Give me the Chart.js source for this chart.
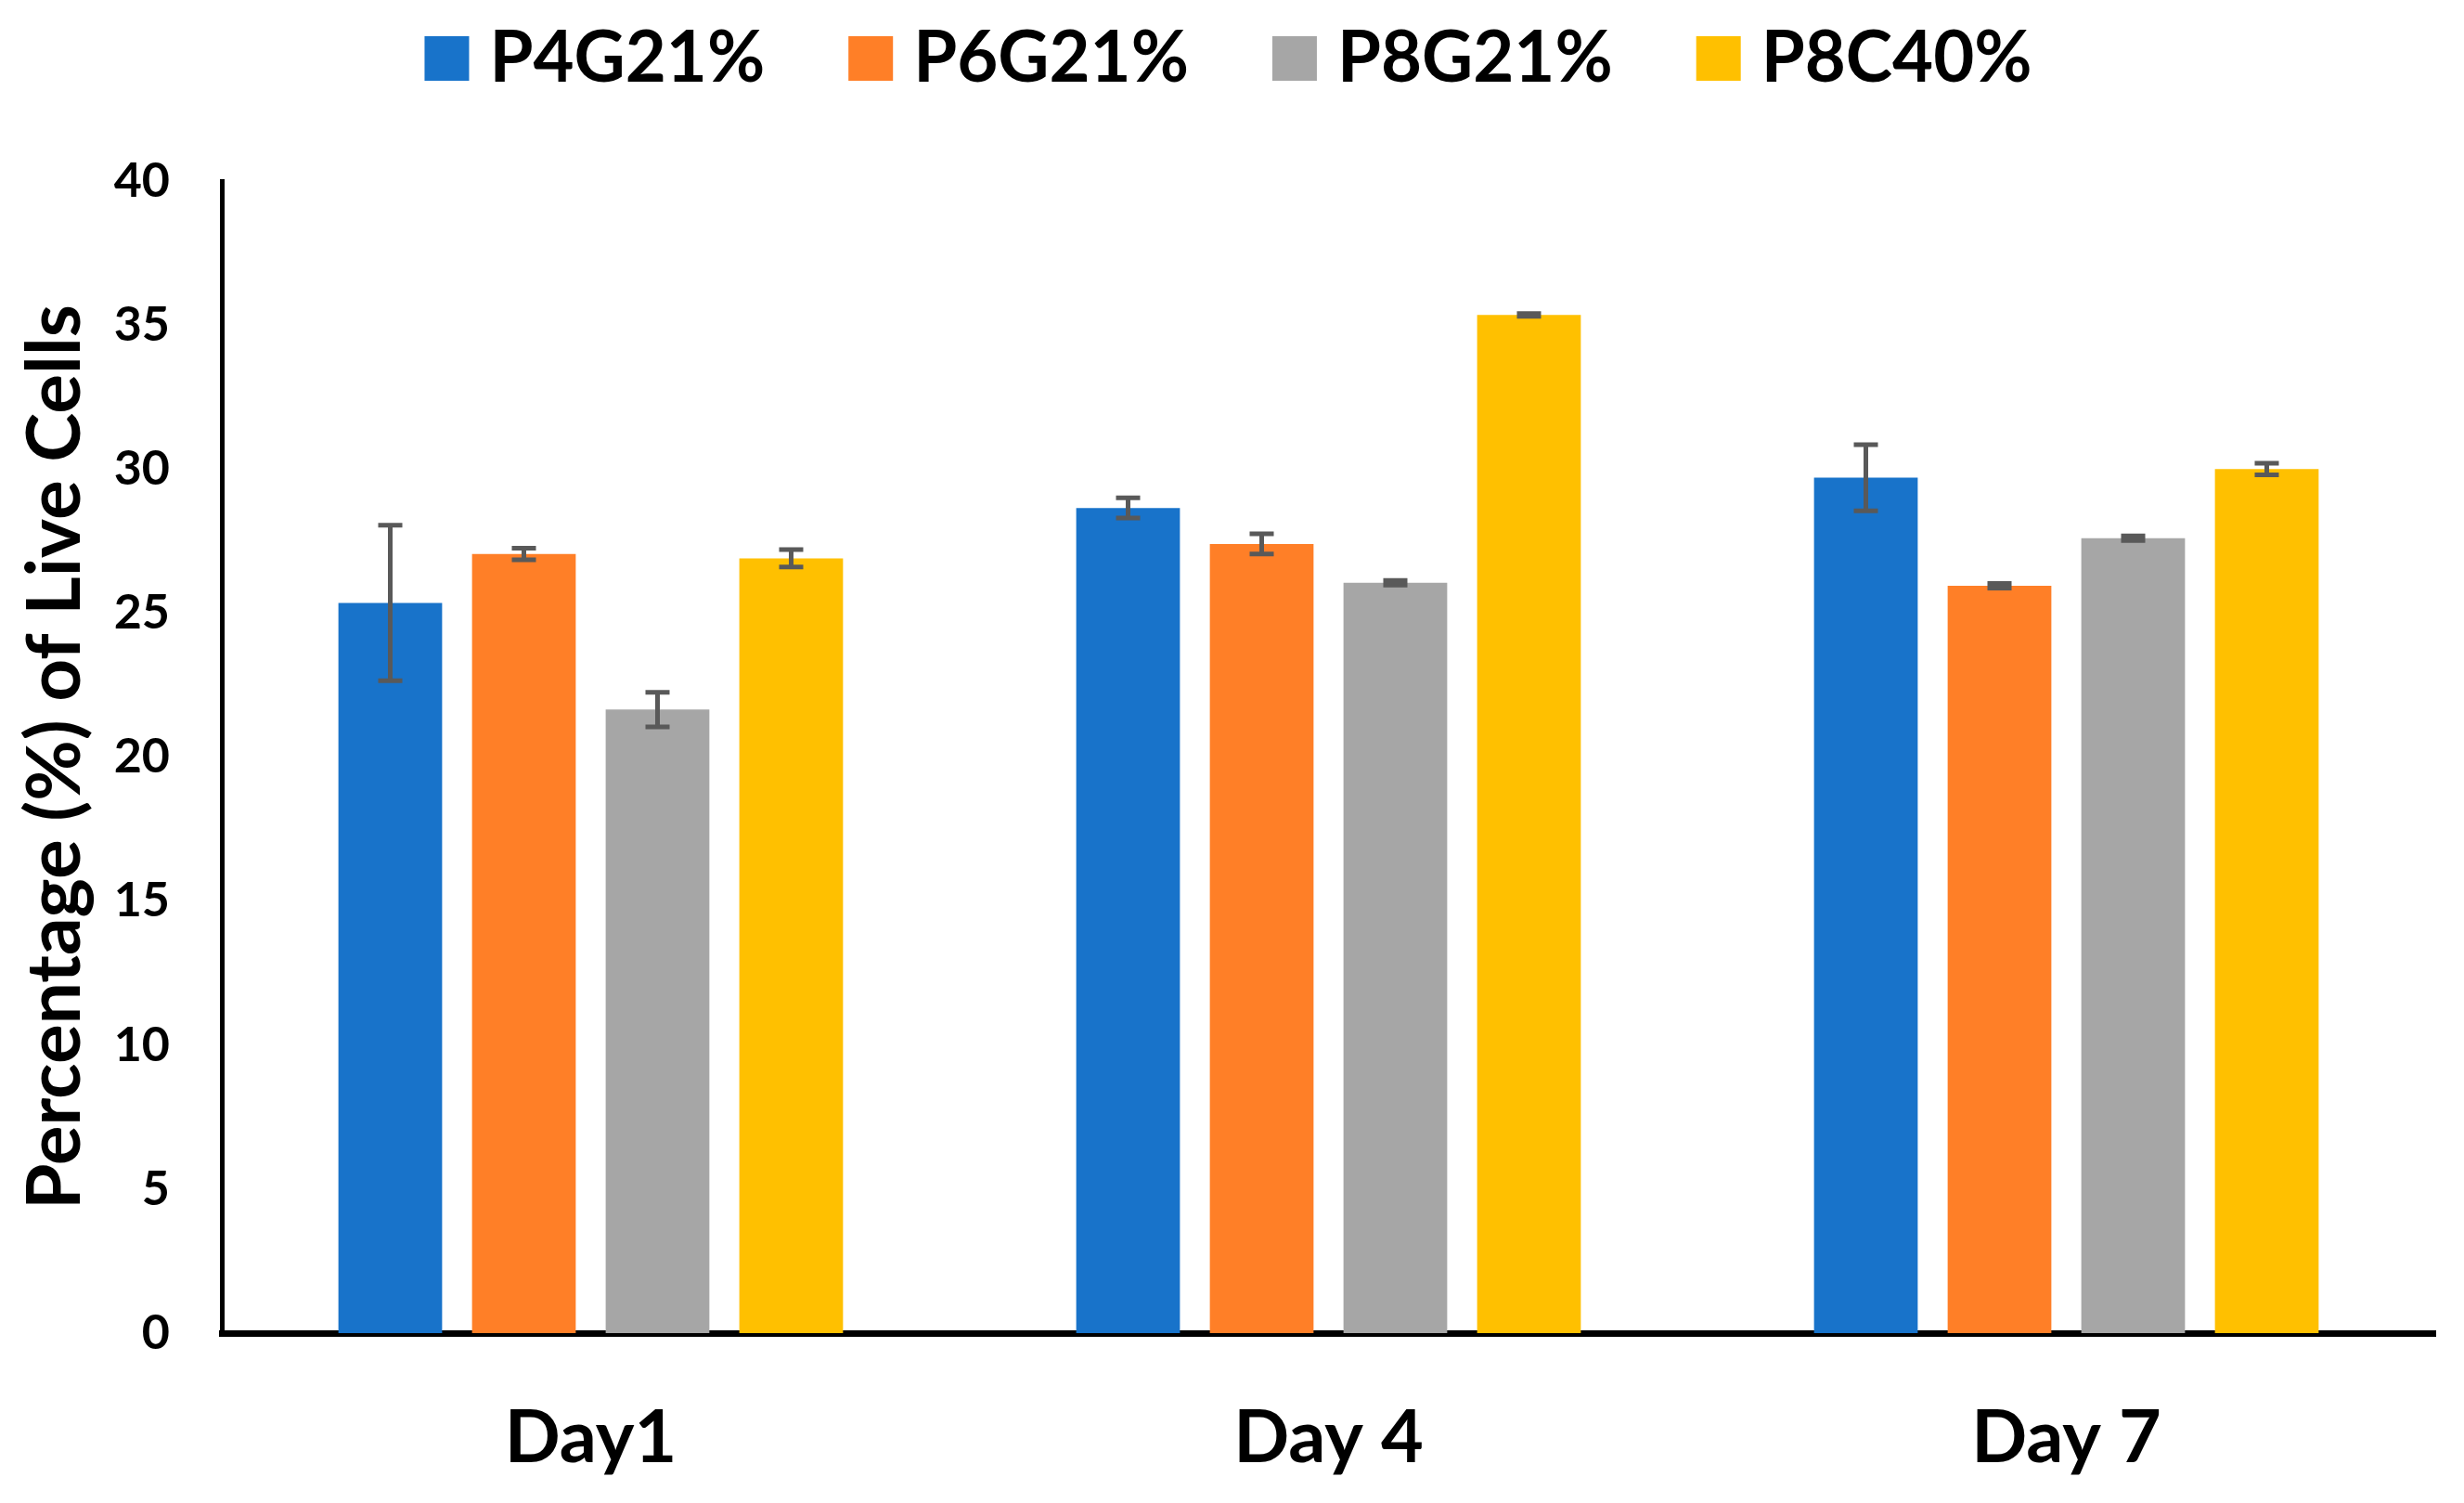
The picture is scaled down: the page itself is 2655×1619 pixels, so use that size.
<!DOCTYPE html>
<html>
<head>
<meta charset="utf-8">
<script src="https://cdn.jsdelivr.net/npm/chart.js@4"></script>
<style>
  html, body { margin: 0; padding: 0; background: #ffffff; }
  #wrap { width: 2655px; height: 1619px; }
</style>
</head>
<body>
<div id="wrap"><canvas id="c" width="2655" height="1619"></canvas></div>
<script>
const categories = ['Day1', 'Day 4', 'Day 7'];
const seriesNames = ['P4G21%', 'P6G21%', 'P8G21%', 'P8C40%'];
const p4g21 = [25.35, 28.65, 29.7];
const p6g21 = [27.05, 27.4, 25.95];
const p8g21 = [21.65, 26.05, 27.6];
const p8c40 = [26.9, 35.35, 30.0];
const p4g21Err = [2.7, 0.35, 1.15];
const p6g21Err = [0.2, 0.35, 0.08];
const p8g21Err = [0.6, 0.08, 0.08];
const p8c40Err = [0.3, 0.05, 0.2];
const yTicks = [0, 5, 10, 15, 20, 25, 30, 35, 40];

const colors = ['#1873CA', '#FF7F27', '#A6A6A6', '#FFC000'];
const values = [p4g21, p6g21, p8g21, p8c40];
const errors = [p4g21Err, p6g21Err, p8g21Err, p8c40Err];
const FONT = 'Lato';

const errorBarPlugin = {
  id: 'errorBars',
  afterDatasetsDraw(chart) {
    const ctx = chart.ctx;
    const y = chart.scales.y;
    ctx.save();
    ctx.strokeStyle = '#595959';
    ctx.lineWidth = 5;
    chart.data.datasets.forEach((ds, i) => {
      const meta = chart.getDatasetMeta(i);
      meta.data.forEach((bar, j) => {
        const v = ds.data[j], e = ds.errors[j];
        const top = y.getPixelForValue(v + e);
        const bot = y.getPixelForValue(v - e);
        const x = bar.x, hw = 13;
        ctx.beginPath();
        ctx.moveTo(x, top); ctx.lineTo(x, bot);
        ctx.moveTo(x - hw, top); ctx.lineTo(x + hw, top);
        ctx.moveTo(x - hw, bot); ctx.lineTo(x + hw, bot);
        ctx.stroke();
      });
    });
    ctx.restore();
  }
};

const legendPlugin = {
  id: 'customLegend',
  afterDraw(chart) {
    const ctx = chart.ctx;
    ctx.save();
    ctx.font = 'bold 76px ' + FONT;
    ctx.textBaseline = 'alphabetic';
    ctx.textAlign = 'left';
    const box = 48, gap = 22, itemGap = 90;
    const widths = chart.data.datasets.map(d => ctx.measureText(d.label).width);
    let total = widths.reduce((a, w) => a + box + gap + w, 0) + itemGap * (widths.length - 1);
    let x = (chart.width - total) / 2 - 4;
    chart.data.datasets.forEach((d, i) => {
      ctx.fillStyle = d.backgroundColor;
      ctx.fillRect(x, 39, box, box);
      ctx.fillStyle = '#000000';
      ctx.fillText(d.label, x + box + gap, 88);
      x += box + gap + widths[i] + itemGap;
    });
    ctx.restore();
  }
};

new Chart(document.getElementById('c'), {
  type: 'bar',
  data: {
    labels: categories,
    datasets: seriesNames.map((name, i) => ({
      label: name,
      data: values[i],
      errors: errors[i],
      backgroundColor: colors[i],
      borderWidth: 0,
      categoryPercentage: 0.7245,
      barPercentage: 0.776
    }))
  },
  options: {
    responsive: false,
    maintainAspectRatio: false,
    devicePixelRatio: 1,
    animation: false,
    layout: { padding: { left: 0, right: 31, top: 195, bottom: 0 } },
    plugins: {
      legend: { display: false },
      tooltip: { enabled: false }
    },
    scales: {
      x: {
        grid: { display: false, drawTicks: false },
        border: { display: true, color: '#000000', width: 7 },
        ticks: {
          color: '#000000',
          padding: 66,
          font: { family: FONT, size: 79, weight: 'bold' }
        },
        afterFit(axis) { axis.height = 183; }
      },
      y: {
        min: 0,
        max: 40,
        afterBuildTicks(axis) { axis.ticks = yTicks.map(v => ({ value: v })); },
        grid: { display: false, drawTicks: false },
        border: { display: true, color: '#000000', width: 5 },
        ticks: {
          color: '#000000',
          padding: 56,
          font: { family: FONT, size: 52, weight: 'bold' }
        },
        title: {
          display: true,
          text: 'Percentage (%) of Live Cells',
          color: '#000000',
          padding: { top: 12, bottom: 0 },
          font: { family: FONT, size: 80, weight: 'bold' }
        },
        afterFit(axis) { axis.width = 239; }
      }
    }
  },
  plugins: [errorBarPlugin, legendPlugin]
});
</script>
</body>
</html>
